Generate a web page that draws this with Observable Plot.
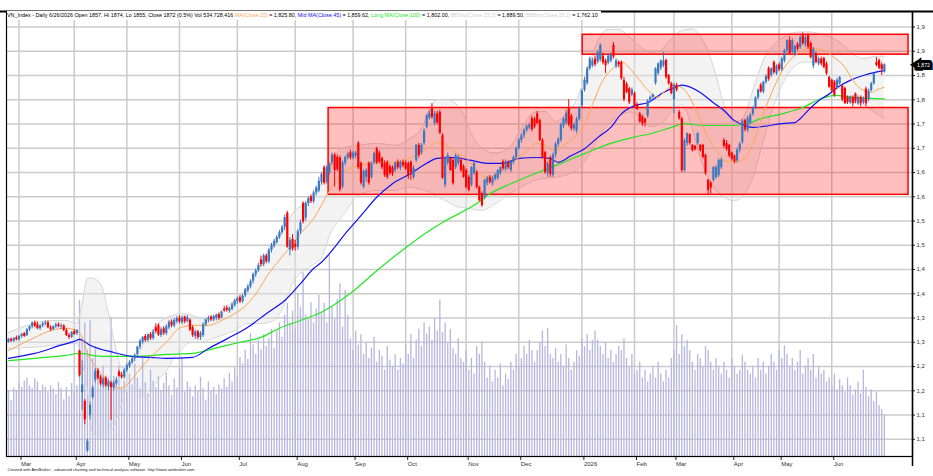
<!DOCTYPE html>
<html><head><meta charset="utf-8">
<script src="https://cdn.jsdelivr.net/npm/d3@7"></script>
<script src="https://cdn.jsdelivr.net/npm/@observablehq/plot@0.6"></script>
<style>
body{margin:0;background:#fff;font-family:Arial,"Liberation Sans",sans-serif;}
#wrap{position:relative;width:933px;height:476px;overflow:hidden;background:#fff}
#title{position:absolute;left:7px;top:11px;font-size:5.4px;background:#fff;white-space:nowrap;line-height:9px;padding-right:3px;color:#000}
</style></head><body><div id="wrap"><div id="chart"></div><div id="title"></div></div>
<script>
// ---------- DATA ----------
const opens=[
1300,1306,1302,1309,1305,1312,1318,1314,1326,1332,
1340,1336,1328,1334,1338,1340,1330,1326,1332,1336,
1332,1334,1324,1314,1310,1322,1318,1282,1196,1178,
1076,1150,1186,1222,1242,1228,1212,1226,1208,1216,
1206,1214,1238,1232,1228,1242,1250,1258,1266,1275,
1290,1300,1312,1304,1316,1308,1330,1334,1314,1328,
1318,1330,1342,1334,1342,1350,1340,1352,1343,1346,
1330,1312,1322,1310,1314,1336,1346,1352,1346,1350,
1357,1350,1368,1370,1364,1368,1376,1384,1392,1384,
1396,1406,1414,1426,1440,1448,1470,1460,1478,1466,
1490,1498,1506,1516,1526,1537,1566,1490,1512,1502,
1496,1528,1586,1556,1586,1600,1590,1608,1612,1630,
1660,1630,1650,1670,1686,1681,1680,1620,1669,1680,
1691,1680,1684,1710,1669,1620,1640,1669,1640,1670,
1699,1690,1679,1668,1671,1662,1660,1654,1671,1659,
1671,1670,1668,1671,1640,1675,1706,1690,1710,1743,
1762,1784,1751,1771,1774,1726,1624,1669,1679,1675,
1660,1669,1675,1662,1654,1640,1624,1648,1650,1619,
1606,1599,1628,1640,1627,1636,1638,1648,1672,1657,
1670,1654,1671,1681,1700,1716,1726,1737,1742,1761,
1760,1771,1757,1716,1691,1648,1680,1644,1686,1708,
1716,1746,1752,1784,1766,1740,1736,1760,1788,1820,
1834,1864,1870,1884,1878,1882,1890,1880,1876,1880,
1912,1868,1877,1877,1840,1832,1823,1810,1813,1790,
1771,1765,1760,1767,1798,1805,1834,1854,1865,1870,
1881,1850,1833,1800,1830,1774,1761,1654,1710,1728,
1706,1704,1710,1706,1706,1685,1634,1628,1634,1640,
1644,1660,1716,1710,1706,1690,1684,1674,1696,1712,
1757,1737,1752,1770,1785,1804,1830,1816,1836,1864,
1850,1877,1854,1872,1862,1880,1901,1922,1898,1895,
1914,1908,1932,1913,1932,1916,1870,1895,1874,1884,
1885,1874,1846,1840,1836,1823,1833,1828,1823,1805,
1794,1805,1812,1792,1805,1794,1822,1800,1819,1833,
1877,1881,1872,1857];
const highs=[
1308,1309,1310,1313,1314,1318,1320,1328,1334,1342,
1344,1342,1336,1342,1344,1344,1334,1334,1340,1340,
1338,1336,1328,1318,1322,1326,1326,1284,1262,1182,
1100,1176,1210,1246,1246,1232,1228,1230,1222,1220,
1220,1228,1242,1238,1246,1256,1262,1270,1276,1292,
1306,1312,1316,1318,1320,1326,1338,1338,1330,1332,
1336,1345,1346,1349,1353,1355,1354,1354,1355,1348,
1334,1325,1324,1322,1340,1348,1354,1355,1356,1358,
1360,1364,1374,1375,1372,1381,1389,1393,1396,1399,
1411,1419,1429,1443,1451,1463,1478,1482,1482,1494,
1504,1512,1520,1531,1541,1562,1570,1516,1522,1510,
1532,1552,1590,1590,1600,1604,1612,1622,1640,1650,
1664,1664,1670,1690,1690,1686,1684,1674,1684,1692,
1696,1694,1694,1714,1672,1656,1658,1672,1672,1692,
1702,1694,1682,1674,1674,1666,1664,1672,1676,1674,
1676,1674,1672,1674,1664,1708,1710,1710,1740,1770,
1778,1792,1776,1776,1778,1730,1682,1690,1682,1678,
1688,1686,1680,1666,1658,1644,1662,1672,1654,1622,
1610,1636,1642,1644,1642,1648,1656,1662,1676,1676,
1674,1674,1684,1702,1720,1730,1740,1748,1752,1766,
1764,1776,1760,1720,1694,1672,1684,1690,1712,1722,
1752,1764,1778,1800,1770,1752,1764,1786,1822,1846,
1868,1888,1886,1890,1902,1916,1896,1884,1894,1896,
1918,1884,1880,1880,1846,1836,1826,1824,1816,1794,
1774,1768,1762,1800,1808,1812,1866,1876,1882,1898,
1884,1852,1836,1834,1834,1778,1764,1720,1732,1730,
1708,1706,1732,1708,1708,1688,1636,1632,1662,1664,
1678,1680,1720,1716,1708,1692,1686,1700,1712,1760,
1760,1766,1772,1786,1806,1822,1834,1838,1852,1868,
1866,1880,1872,1876,1888,1904,1924,1930,1926,1912,
1918,1932,1938,1932,1936,1920,1908,1898,1888,1888,
1888,1878,1848,1842,1840,1844,1848,1830,1826,1808,
1808,1808,1814,1808,1808,1806,1826,1822,1836,1856,
1887,1884,1876,1874];
const lows=[
1298,1300,1300,1303,1302,1308,1310,1312,1322,1328,
1330,1326,1324,1330,1334,1328,1322,1324,1328,1330,
1326,1322,1312,1306,1308,1314,1314,1228,1160,1130,
1073,1140,1182,1216,1222,1210,1206,1206,1200,1139,
1200,1210,1228,1224,1224,1238,1246,1254,1260,1270,
1285,1296,1300,1300,1304,1304,1318,1312,1310,1314,
1314,1326,1330,1330,1338,1338,1336,1338,1340,1322,
1310,1306,1305,1304,1310,1332,1340,1342,1342,1344,
1345,1348,1362,1362,1360,1365,1372,1378,1380,1380,
1392,1402,1410,1420,1434,1444,1455,1456,1462,1462,
1484,1494,1502,1512,1522,1530,1494,1478,1488,1488,
1490,1522,1544,1550,1580,1586,1586,1602,1608,1624,
1624,1626,1644,1664,1620,1652,1610,1616,1664,1676,
1676,1676,1678,1656,1624,1616,1630,1624,1636,1666,
1666,1668,1656,1640,1636,1644,1642,1650,1656,1654,
1660,1654,1636,1634,1636,1670,1680,1686,1706,1740,
1758,1760,1746,1748,1728,1636,1618,1664,1652,1624,
1656,1664,1650,1638,1616,1610,1620,1644,1616,1590,
1578,1594,1622,1626,1622,1632,1634,1644,1654,1652,
1656,1650,1666,1676,1696,1710,1720,1732,1738,1734,
1740,1748,1714,1678,1646,1640,1640,1640,1680,1702,
1712,1740,1748,1744,1736,1734,1730,1756,1784,1816,
1830,1860,1866,1868,1874,1878,1872,1854,1872,1876,
1884,1864,1866,1840,1796,1812,1790,1806,1784,1778,
1752,1745,1744,1762,1794,1800,1830,1850,1860,1866,
1842,1830,1810,1771,1816,1758,1650,1650,1704,1706,
1692,1694,1706,1692,1678,1644,1602,1606,1630,1636,
1640,1656,1700,1694,1680,1674,1668,1670,1690,1708,
1734,1732,1748,1766,1780,1800,1814,1812,1832,1838,
1846,1852,1850,1858,1858,1876,1896,1892,1894,1890,
1900,1904,1912,1908,1904,1884,1864,1874,1870,1870,
1864,1850,1824,1815,1805,1820,1830,1796,1790,1790,
1790,1785,1792,1788,1785,1790,1786,1796,1816,1830,
1868,1862,1850,1855];
const closes=[
1306,1302,1308,1305,1312,1316,1312,1326,1332,1340,
1333,1328,1334,1338,1340,1330,1326,1332,1336,1332,
1334,1324,1314,1310,1320,1316,1324,1231,1212,1140,
1096,1170,1205,1240,1226,1214,1224,1210,1218,1206,
1216,1222,1230,1228,1242,1252,1258,1266,1273,1290,
1302,1310,1304,1315,1308,1321,1322,1315,1326,1318,
1332,1341,1334,1345,1349,1342,1350,1342,1351,1325,
1314,1321,1310,1318,1336,1346,1350,1346,1353,1356,
1349,1362,1365,1366,1370,1377,1385,1390,1383,1395,
1408,1414,1425,1440,1447,1458,1460,1478,1466,1490,
1500,1508,1516,1526,1537,1557,1496,1510,1492,1496,
1528,1546,1548,1586,1596,1590,1608,1618,1632,1646,
1628,1660,1666,1686,1654,1656,1614,1670,1681,1688,
1680,1690,1690,1660,1628,1652,1654,1628,1668,1689,
1670,1672,1660,1644,1640,1648,1647,1669,1660,1671,
1664,1657,1644,1650,1659,1706,1685,1706,1736,1767,
1772,1764,1771,1752,1731,1638,1679,1685,1654,1627,
1685,1682,1654,1640,1619,1613,1660,1669,1619,1592,
1582,1634,1638,1630,1638,1644,1654,1660,1658,1672,
1660,1671,1681,1700,1717,1726,1737,1745,1748,1738,
1744,1751,1716,1681,1650,1668,1646,1686,1708,1718,
1748,1760,1772,1748,1740,1748,1760,1783,1818,1840,
1864,1884,1880,1872,1898,1912,1876,1870,1890,1892,
1888,1880,1872,1844,1800,1815,1794,1820,1788,1780,
1754,1750,1752,1798,1805,1810,1864,1874,1880,1880,
1846,1833,1813,1830,1820,1761,1654,1716,1730,1710,
1695,1697,1730,1695,1681,1648,1613,1618,1660,1660,
1675,1676,1704,1698,1684,1678,1672,1696,1708,1756,
1738,1762,1768,1784,1804,1820,1816,1836,1848,1842,
1864,1856,1870,1862,1884,1901,1922,1895,1922,1910,
1904,1928,1916,1928,1908,1887,1904,1877,1884,1874,
1867,1854,1826,1819,1809,1840,1846,1800,1792,1794,
1805,1792,1796,1805,1792,1802,1792,1818,1833,1854,
1871,1865,1862,1872];
// volume, millions of shares
const volumes=[
840,710,870,840,930,880,960,1000,900,870,
990,950,830,910,880,820,900,860,790,940,
870,720,880,760,930,820,900,1990,1500,1700,
1350,1730,1250,1400,1080,960,1150,880,1000,1770,
1020,900,1150,870,960,820,1050,910,1180,1000,
860,1250,940,800,1100,960,880,1020,840,930,
1060,900,780,990,870,1120,1260,820,950,880,
760,900,830,1010,870,720,950,840,880,790,
910,860,990,880,1060,950,1130,1020,1260,1180,
1350,1240,1570,1420,1300,1480,1360,1550,1400,1500,
1620,1380,1600,1700,1520,1800,1950,1700,1850,1620,
2080,1900,2340,1800,1750,1960,1700,1880,2050,1820,
1950,1700,2560,1900,1750,2000,2200,1650,2115,1800,
1500,1350,1600,1420,1550,1300,1450,1250,1380,1520,
1200,1350,1280,1100,1400,1230,1150,1300,1100,1250,
1180,1420,1300,1550,1250,1480,1620,1400,1700,1560,
1650,1480,1760,1600,1990,1580,1700,1450,1620,1380,
1300,1500,1250,1200,1350,1100,1250,1050,1400,1300,
1450,1200,1000,1150,950,1100,1000,1180,900,1050,
980,1200,1100,1300,1150,1250,1400,1300,1480,1350,
1200,1350,1450,1600,1400,1630,1300,1250,1380,1200,
1300,1150,1420,1250,1100,1200,1350,1280,1500,1400,
1550,1350,1480,1600,1480,1400,1300,1450,1250,1350,
1200,1300,1400,1350,1500,1250,1150,1300,1050,1100,
1200,1000,1100,950,1050,1150,1000,1200,1050,950,
1100,1000,1250,1350,1670,1300,1550,1400,1480,1350,
1200,1100,1300,1250,1150,1400,1350,1200,1100,1250,
1150,1050,1200,1100,1000,1250,1150,1050,1100,1290,
1200,1100,1050,1150,1000,1250,1100,1200,1050,1150,
1300,1200,1100,1350,1250,1410,1300,1150,1250,1100,
1200,1350,1050,1150,1250,1100,1300,1000,1150,1050,
1100,950,1000,900,1050,850,980,900,820,1000,
900,780,850,950,800,1100,880,760,850,700,
820,650,600,535];
// moving averages (bar index, value)
const ma15Idx=[0,10,16,22,27,30,35,39,42,45,49,54,60,65,70,76,81,86,91,95,98,102,106,111,116,122,127,134,140,146,153,158,163,166,169,175,178,182,186,191,196,201,204,207,211,215,219,222,226,230,233,237,240,244,247,249,253,256,259,262,266,270,272,276,280,283,287,291,295,299,302,306,310,314,318,321,325,328,330,333];
const ma15Val=[1283,1310,1324,1329,1320,1278,1236,1215,1205,1212,1238,1269,1300,1329,1335,1335,1345,1359,1380,1407,1434,1463,1489,1524,1555,1612,1650,1665,1671,1671,1681,1695,1712,1708,1695,1675,1654,1640,1648,1669,1689,1710,1706,1695,1706,1722,1748,1790,1840,1866,1878,1860,1840,1815,1805,1815,1830,1825,1805,1771,1722,1689,1675,1671,1679,1710,1771,1825,1867,1891,1902,1906,1902,1887,1867,1840,1819,1815,1820,1826];
const ma45Idx=[0,10,20,25,27,31,40,47,54,60,70,76,83,91,98,105,111,116,119,129,134,140,146,153,159,163,169,176,182,188,194,201,206,209,214,219,224,229,233,238,243,249,253,256,263,268,272,276,280,283,287,294,299,301,304,308,312,315,320,325,329,333];
const ma45Val=[1267,1277,1294,1302,1306,1294,1279,1271,1269,1267,1269,1287,1307,1331,1359,1386,1421,1452,1465,1530,1561,1599,1627,1648,1669,1679,1681,1675,1669,1669,1679,1681,1679,1671,1685,1699,1722,1743,1771,1788,1794,1815,1825,1830,1815,1794,1778,1757,1747,1743,1745,1751,1753,1761,1778,1798,1812,1825,1840,1850,1856,1860];
const ma100Idx=[0,10,22,27,35,48,60,70,78,88,96,103,111,119,130,141,151,160,165,178,183,191,203,211,219,229,237,244,252,257,264,275,281,286,294,301,309,314,321,333];
const ma100Val=[1262,1267,1273,1277,1271,1271,1275,1277,1287,1300,1310,1329,1345,1362,1401,1452,1495,1530,1547,1586,1606,1627,1654,1671,1689,1710,1722,1730,1743,1751,1747,1747,1751,1761,1771,1782,1802,1809,1805,1802];
// Bollinger bands (15,2)
const bbIdx=[0,10,16,22,26,28,30,32,35,38,41,43,45,48,50,53,55,57,60,63,65,68,70,73,76,81,86,91,96,101,105,108,114,119,122,127,133,140,147,152,157,160,163,167,170,173,176,180,185,190,195,200,204,208,212,216,220,224,228,232,236,240,244,248,252,256,260,263,266,269,272,276,279,283,287,291,295,298,303,307,311,315,318,321,325,329,333];
const bbTop=[1320,1339,1345,1345,1339,1380,1432,1432,1420,1360,1283,1248,1252,1270,1285,1310,1325,1339,1351,1356,1359,1358,1355,1350,1345,1365,1386,1413,1462,1504,1537,1565,1592,1627,1665,1700,1706,1710,1706,1718,1740,1780,1800,1800,1792,1770,1730,1700,1690,1699,1740,1774,1776,1755,1770,1800,1860,1920,1945,1945,1930,1910,1898,1902,1925,1943,1946,1932,1900,1850,1790,1755,1760,1819,1881,1912,1930,1938,1940,1938,1932,1922,1910,1895,1885,1889,1890];
const bbBot=[1287,1290,1293,1297,1297,1260,1201,1112,1104,1110,1140,1173,1201,1200,1190,1186,1207,1222,1240,1269,1280,1297,1300,1300,1305,1314,1324,1339,1339,1345,1380,1421,1454,1475,1520,1560,1603,1613,1613,1620,1615,1610,1600,1590,1580,1578,1575,1572,1585,1605,1620,1634,1638,1640,1645,1655,1680,1720,1750,1765,1775,1765,1745,1750,1775,1790,1740,1680,1640,1613,1599,1592,1600,1640,1716,1790,1840,1865,1878,1878,1860,1830,1810,1795,1790,1775,1762];
// red zones: first bar, last bar, low, high
const zoneStart=[121.7,218.3];
const zoneEnd=[342.2,342.2];
const zoneLow=[1604,1893];
const zoneHigh=[1783,1934];
// axes
const priceTicks=[1100,1150,1200,1250,1300,1350,1400,1450,1500,1550,1600,1650,1700,1750,1800,1850,1900,1950];
const monthIdx=[4,25,45,65,87,109,131,151,174,194,218,238,253,275,293,313];
const monthLabels=["Mar","Apr","May","Jun","Jul","Aug","Sep","Oct","Nov","Dec","2026","Feb","Mar","Apr","May","Jun"];
const lastInfo={date:"6/26/2026",open:1857,hi:1874,lo:1855,close:1872,pct:"0.5%",vol:534728416,ma15:1825.80,ma45:1859.62,ma100:1802.00,bbTop:1889.50,bbBot:1762.10};

// ---------- BUILD ----------
const N=closes.length;
const bars=d3.range(N).map(i=>({i,o:opens[i],h:highs[i],l:lows[i],c:closes[i],v:volumes[i]}));
const yDom=[1064.5,1982];
const xDom=[-0.76,343.7];
const volMax=5670; // volume at the top of the panel
const volY=v=>yDom[0]+v/volMax*(yDom[1]-yDom[0]);
const band=bbIdx.map((i,k)=>({i,top:bbTop[k],bot:bbBot[k]}));
const pts=(idx,val)=>idx.map((i,k)=>({i,v:val[k]}));
const zones=zoneStart.map((s,k)=>({s,e:zoneEnd[k],lo:zoneLow[k],hi:zoneHigh[k]}));
const BLUE="#3c78c0", RED="#ff0000";
const col=d=>d.c>=d.o?BLUE:RED;
const lab=new Map(monthIdx.map((d,k)=>[d,monthLabels[k]]));
const fmt=d3.format(",");

const chart=Plot.plot({
  width:933,height:476,
  marginTop:11,marginBottom:20,marginLeft:6,marginRight:21,
  x:{domain:xDom,axis:null},
  y:{domain:yDom,axis:null},
  style:{background:"transparent",fontFamily:"Arial, 'Liberation Sans', sans-serif",color:"#222"},
  marks:[
    Plot.ruleY(priceTicks,{stroke:"#cbcbcb",strokeWidth:1.5}),
    Plot.ruleX(monthIdx,{stroke:"#cbcbcb",strokeWidth:1.5}),
    Plot.areaY(band,{x:"i",y1:"bot",y2:"top",fill:"#e4e4e4",fillOpacity:0.45,curve:"monotone-x"}),
    Plot.ruleX(bars,{x:"i",y1:yDom[0],y2:d=>volY(d.v),stroke:"#b6b6e0",strokeWidth:1.3}),
    Plot.line(band,{x:"i",y:"top",stroke:"#d6d6d6",strokeWidth:1,curve:"monotone-x"}),
    Plot.line(band,{x:"i",y:"bot",stroke:"#d6d6d6",strokeWidth:1,curve:"monotone-x"}),
    Plot.rect(zones,{x1:"s",x2:"e",y1:"lo",y2:"hi",fill:"#ff0000",fillOpacity:0.25,stroke:"#ff0000",strokeWidth:1.5}),
    Plot.line(pts(ma100Idx,ma100Val),{x:"i",y:"v",stroke:"#22e622",strokeWidth:1.2,curve:"monotone-x"}),
    Plot.line(pts(ma45Idx,ma45Val),{x:"i",y:"v",stroke:"#1010f0",strokeWidth:1.2,curve:"monotone-x"}),
    Plot.line(pts(ma15Idx,ma15Val),{x:"i",y:"v",stroke:"#ffa552",strokeWidth:1,curve:"monotone-x"}),
    Plot.ruleX(bars,{x:"i",y1:"l",y2:"h",stroke:col,strokeWidth:1}),
    Plot.ruleX(bars,{x:"i",y1:"o",y2:"c",stroke:col,strokeWidth:2.2}),
    Plot.axisY(priceTicks,{anchor:"right",tickSize:2,tickPadding:2,fontSize:6,fill:"#333",tickFormat:d=>fmt(d).slice(0,3)}),
    Plot.axisX(monthIdx,{anchor:"bottom",tickSize:4,tickPadding:1,fontSize:6,fill:"#333",textAnchor:"start",dx:2,tickFormat:d=>lab.get(d)}),
    Plot.frame({stroke:"#000",strokeWidth:1.2}),
    Plot.ruleY([yDom[1]],{stroke:"#000",strokeWidth:2.2,insetLeft:-6,insetRight:-21}),
    Plot.ruleX([xDom[1]],{stroke:"#000",strokeWidth:1.5,insetBottom:-10}),
    Plot.dot([lastInfo],{x:()=>xDom[1],y:"close",symbol:"triangle",r:3,fill:"#000",rotate:-90,dx:2}),
    Plot.text([lastInfo],{x:()=>xDom[1],y:"close",text:d=>fmt(d.close),dx:11,fontSize:5.2,fill:"#fff",stroke:"#000",strokeWidth:6,strokeLinejoin:"miter",paintOrder:"stroke"}),
    Plot.text(["Created with AmiBroker - advanced charting and technical analysis software. http://www.amibroker.com"],{frameAnchor:"bottom-left",dx:1,dy:14,fontSize:4.1,textAnchor:"start",fill:"#222"})
  ]
});
document.getElementById("chart").appendChild(chart);

const f2=d3.format(",.2f");
const L=lastInfo;
document.getElementById("title").innerHTML=
 `VN_Index - Daily ${L.date} Open ${L.open}, Hi ${L.hi}, Lo ${L.lo}, Close ${L.close} (${L.pct}) Vol ${fmt(L.vol)} `+
 `<span style="color:#ffa552">MA(Close,15)</span> = ${f2(L.ma15)}, `+
 `<span style="color:#1010f0">Mid MA(Close,45)</span> = ${f2(L.ma45)}, `+
 `<span style="color:#22e622">Long MA(Close,100)</span> = ${f2(L.ma100)}, `+
 `<span style="color:#cfcfcf">BBTop(Close,15,2)</span> = ${f2(L.bbTop)}, `+
 `<span style="color:#cfcfcf">BBBot(Close,15,2)</span> = ${f2(L.bbBot)}`;
</script></body></html>
